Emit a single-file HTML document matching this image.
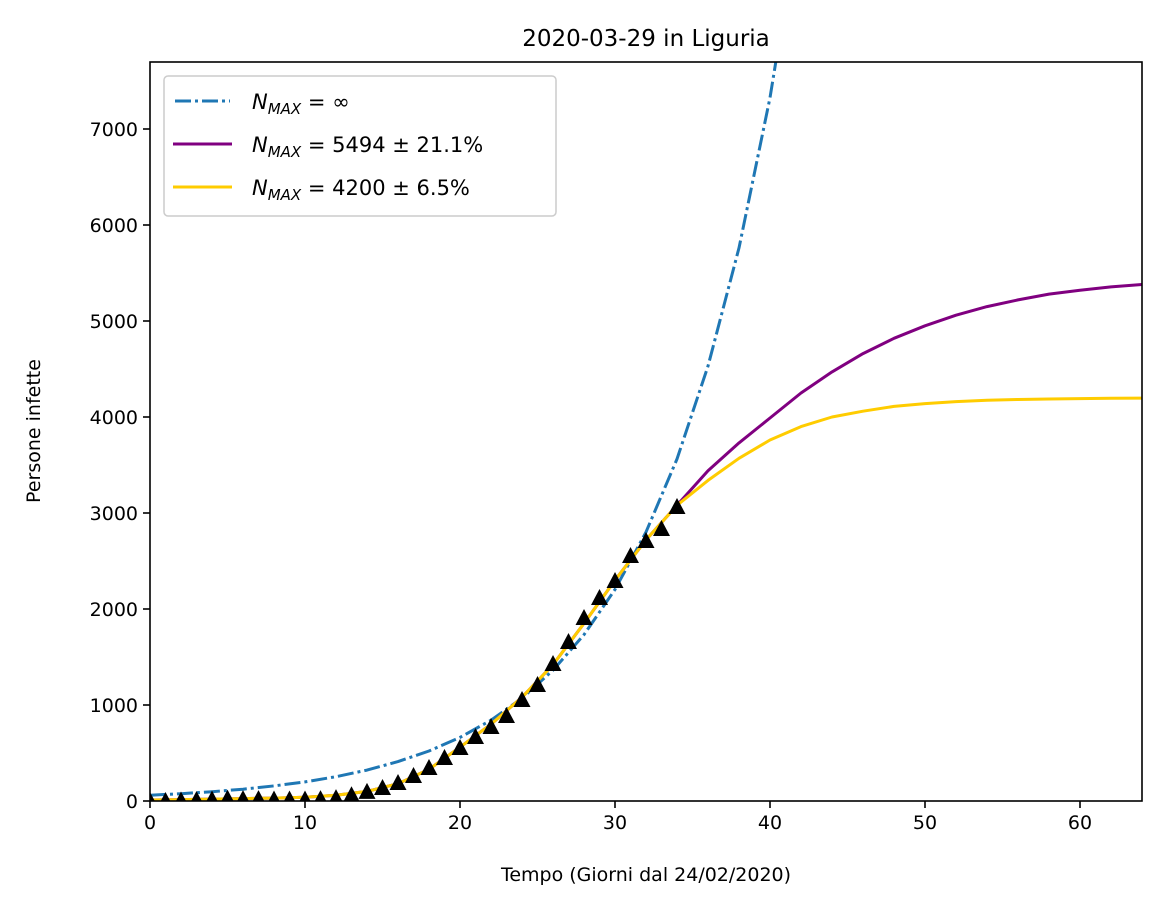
<!DOCTYPE html>
<html><head><meta charset="utf-8"><style>
body{margin:0;background:#fff;}
svg{display:block;font-family:"DejaVu Sans","Liberation Sans",sans-serif;}
</style></head><body>
<svg id="chart" width="1161" height="908" viewBox="0 0 1161 908">
<rect width="1161" height="908" fill="#fff"/>
<defs><clipPath id="clip"><rect x="150" y="62" width="992" height="739"/></clipPath></defs>
<text x="646" y="46" text-anchor="middle" font-size="23">2020-03-29 in Liguria</text>
<g id="series" clip-path="url(#clip)"></g>
<g id="markers" clip-path="url(#clip)"></g>
<rect x="150" y="62" width="992" height="739" fill="none" stroke="#000" stroke-width="1.6"/>
<g id="xticks"></g><g id="yticks"></g>
<text x="646" y="881" text-anchor="middle" font-size="19">Tempo (Giorni dal 24/02/2020)</text>
<text x="40" y="431" text-anchor="middle" font-size="19" transform="rotate(-90 40 431)">Persone infette</text>
<g>
<rect x="164" y="76" width="392" height="140" rx="4" fill="#fff" stroke="#ccc" stroke-width="1.5"/>
<line x1="175" y1="101" x2="230" y2="101" stroke="#1f77b4" stroke-width="3" stroke-dasharray="16,4,3,4"/>
<text x="252" y="109" font-size="21"><tspan font-style="italic">N</tspan><tspan font-style="italic" font-size="15" dy="5">MAX</tspan><tspan dy="-5"> = ∞</tspan></text>
<line x1="173" y1="144" x2="232" y2="144" stroke="#800080" stroke-width="3"/>
<text x="252" y="152" font-size="21"><tspan font-style="italic">N</tspan><tspan font-style="italic" font-size="15" dy="5">MAX</tspan><tspan dy="-5"> = 5494 ± 21.1%</tspan></text>
<line x1="173" y1="187" x2="232" y2="187" stroke="#ffcc00" stroke-width="3"/>
<text x="252" y="195" font-size="21"><tspan font-style="italic">N</tspan><tspan font-style="italic" font-size="15" dy="5">MAX</tspan><tspan dy="-5"> = 4200 ± 6.5%</tspan></text>
</g>
</svg>
<script>
const xTicks=[0,10,20,30,40,50,60];
const yTicks=[0,1000,2000,3000,4000,5000,6000,7000];
const curveDays=[0,2,4,6,8,10,12,14,16,18,20,22,24,26,28,30,32,34,36,38,40,42,44,46,48,50,52,54,56,58,60,62,64];
const expValues=[60,76,97,123,157,199,253,322,410,521,662,842,1071,1362,1732,2203,2801,3562,4530,5761,7326,9316];
const purpleValues=[10,15,20,25,30,40,60,100,180,330,560,800,1080,1420,1850,2300,2720,3080,3440,3730,3990,4250,4470,4660,4820,4950,5060,5150,5220,5280,5320,5355,5380];
const yellowValues=[10,15,20,25,30,40,60,100,180,330,560,800,1080,1420,1850,2300,2720,3080,3340,3570,3760,3900,4000,4060,4110,4140,4160,4175,4182,4188,4192,4195,4197];
const dataDays=[0,1,2,3,4,5,6,7,8,9,10,11,12,13,14,15,16,17,18,19,20,21,22,23,24,25,26,27,28,29,30,31,32,33,34];
const dataValues=[0,0,5,10,15,25,20,20,15,15,15,20,30,60,95,135,187,260,344,448,552,667,771,885,1052,1208,1427,1656,1906,2115,2292,2552,2708,2833,3063];
const X=d=>150+d*(992/64);
const Y=v=>801-v*(672/7000);
const NS='http://www.w3.org/2000/svg';
function mk(t,a,p){const e=document.createElementNS(NS,t);for(const k in a)e.setAttribute(k,a[k]);p.appendChild(e);return e;}
const series=document.getElementById('series');
function line(vals,color,dash,name){
  const pts=vals.map((v,i)=>X(curveDays[i]).toFixed(1)+','+Y(v).toFixed(1)).join(' ');
  const p=mk('polyline',{points:pts,fill:'none',stroke:color,'stroke-width':3,'stroke-dasharray':dash||'none','stroke-linejoin':'round'},series);
  
  
}
line(expValues,'#1f77b4','16,4,3,4','exponential-line');
line(purpleValues,'#800080','','logistic-purple-line');
line(yellowValues,'#ffcc00','','logistic-yellow-line');
const mg=document.getElementById('markers');
dataDays.forEach((d,i)=>{
  const cx=X(d),cy=Y(dataValues[i]);
  const t=mk('polygon',{points:`${cx},${cy-9} ${cx-8.5},${cy+7} ${cx+8.5},${cy+7}`,fill:'#000'},mg);
  
  
});
const xg=document.getElementById('xticks');
xTicks.forEach(v=>{
  mk('line',{x1:X(v),x2:X(v),y1:801,y2:808,stroke:'#000','stroke-width':1.6},xg);
  const t=mk('text',{x:X(v),y:829,'text-anchor':'middle','font-size':19},xg);t.textContent=v;
  
  
});
const yg=document.getElementById('yticks');
yTicks.forEach(v=>{
  mk('line',{x1:143,x2:150,y1:Y(v),y2:Y(v),stroke:'#000','stroke-width':1.6},yg);
  const t=mk('text',{x:138,y:Y(v)+7,'text-anchor':'end','font-size':19},yg);t.textContent=v;
  
  
});
</script>
</body></html>
